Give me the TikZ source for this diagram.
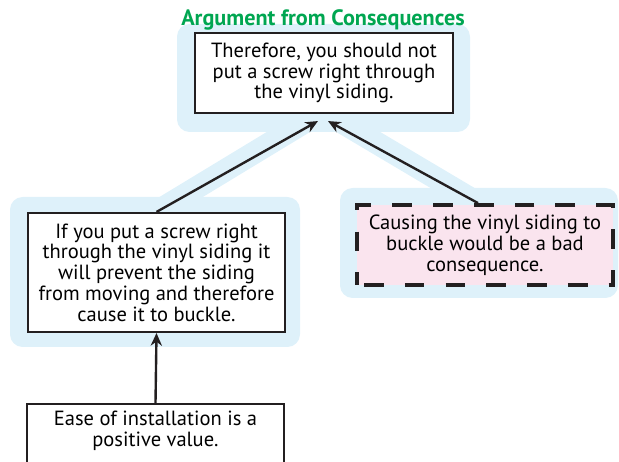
\documentclass[tikz,border=0pt]{standalone}
\usepackage{fontspec}
\setmainfont{PT Sans}
\usepackage{xcolor}
\usetikzlibrary{arrows.meta,backgrounds}

\definecolor{haloblue}{RGB}{222,241,250}
\definecolor{pinkfill}{RGB}{250,228,238}
\definecolor{titlegreen}{RGB}{0,166,81}
\definecolor{ink}{RGB}{35,31,32}

\begin{document}
\begin{tikzpicture}[
    claim/.style={draw=ink,line width=1.5pt,fill=white,align=center,inner sep=2pt,font=\fontsize{14.6}{14.8}\selectfont},
    unstated/.style={claim,fill=pinkfill,line width=2.7pt,dash pattern=on 14pt off 15pt,dash phase=-5pt},
    halo/.style={fill=haloblue,rounded corners=9pt},
    band/.style={draw=haloblue,line width=16pt},
    link/.style={draw=ink,line width=1.7pt,-{Stealth[length=9pt,width=8pt]}}
]
    \useasboundingbox (0,0) rectangle (15.475,11.55);

    % Group backgrounds
    \fill[halo] (4.425,8.25) rectangle (11.75,10.95);
    \fill[halo] (0.25,2.875) rectangle (7.5,6.625);
    \fill[halo] (8.5,4.1) rectangle (15.45,6.85);

    % Title
    \node[font=\bfseries\fontsize{15.8}{17}\selectfont,text=titlegreen] (title) at (8.075,11.05) {Argument from Consequences};

    % Claims
    \node[claim,minimum width=6.45cm,minimum height=2cm] (concl) at (8.1,9.725) {Therefore, you should not\\put a screw right through\\the vinyl siding.};
    \node[claim,minimum width=6.425cm,minimum height=2.975cm] (premise) at (3.9125,4.7375) {If you put a screw right\\through the vinyl siding it\\will prevent the siding\\from moving and therefore\\cause it to buckle.};
    \node[unstated,minimum width=6.4cm,minimum height=2cm] (hidden) at (12.125,5.425) {Causing the vinyl siding to\\buckle would be a bad\\consequence.};
    \node[claim,minimum width=6.425cm,anchor=north,inner ysep=5pt,text depth=1.2cm] (value) at (3.8875,1.475) {Ease of installation is a\\positive value.};

    % Bands behind the links
    \begin{scope}[on background layer]
        \draw[band] (premise.north) -- ([xshift=-0.15cm]concl.south);
        \draw[band] ([xshift=-0.175cm]hidden.north) -- ([xshift=0.1cm]concl.south);
    \end{scope}

    % Arrows
    \draw[link] (premise.north) -- ([xshift=-0.15cm,yshift=-0.175cm]concl.south);
    \draw[link] ([xshift=-0.175cm]hidden.north) -- ([xshift=0.1cm,yshift=-0.175cm]concl.south);
    \draw[link] (value.north) -- (premise.south);
\end{tikzpicture}
\end{document}
